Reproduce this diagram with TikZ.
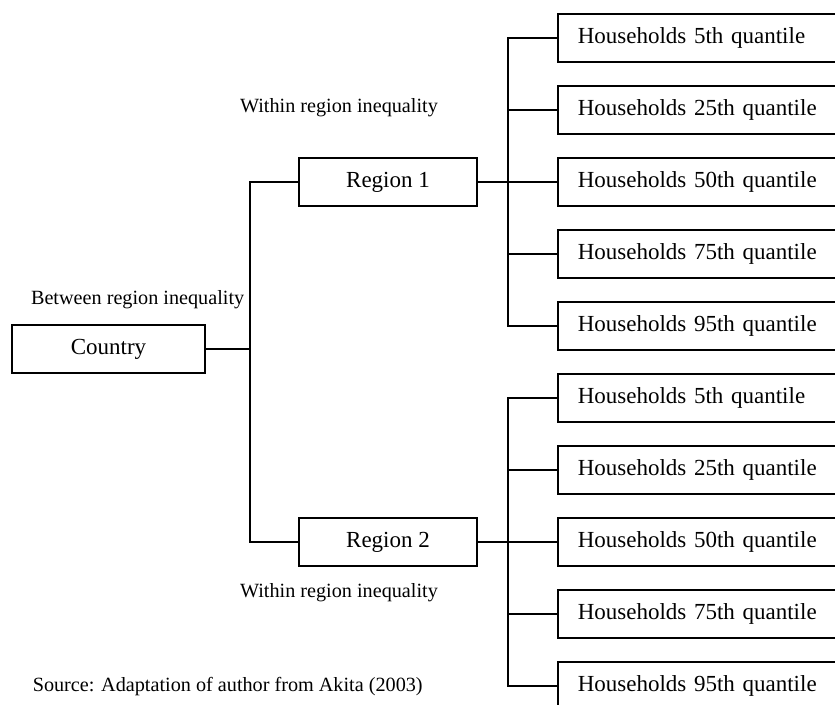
\documentclass[tikz,border=0pt]{standalone}
\usepackage{fontspec}
\setmainfont{Liberation Serif}
\usepackage{tikz}

\begin{document}
\begin{tikzpicture}[x=1pt,y=-1pt,line width=1.6pt,
  box/.style={draw,rectangle,minimum height=48pt,inner sep=0pt,font=\fontsize{23}{27}\selectfont},
  hbox/.style={box,anchor=west,text width=263pt,align=left,inner xsep=20pt},
  lbl/.style={font=\fontsize{20.2}{24}\selectfont,inner sep=0pt}]
\clip (0,0) rectangle (835,704);
\node[box,minimum width=193pt] (country) at (108.5,349) {Country};
\node[box,minimum width=178pt] (r1) at (388,182) {Region 1};
\node[box,minimum width=178pt] (r2) at (388,542) {Region 2};
\coordinate (cj) at (250,349);
\coordinate (j1) at (508,182);
\coordinate (j2) at (508,542);
\draw (country.east) -- (cj);
\draw (r1.west) -| (cj);
\draw (r2.west) -| (cj);
\draw (r1.east) -- (j1);
\draw (r2.east) -- (j2);
% households of each region
\foreach \i/\q in {1/5,2/25,3/50,4/75,5/95} {
   \node[hbox] (ha\i) at (557,38+72*\i-72) {Households \q th quantile};
   \node[hbox] (hb\i) at (557,398+72*\i-72) {Households \q th quantile};
   \draw (ha\i.west) -| (j1);
   \draw (hb\i.west) -| (j2);
}
\node[lbl,anchor=east] (between) at (245,300) {Between region inequality};
\node[lbl] (within1) at (339,108) {Within region inequality};
\node[lbl] (within2) at (339,593) {Within region inequality};
\node[lbl,anchor=west] (source) at (32,687) {Source: Adaptation of author from Akita (2003)};
\end{tikzpicture}
\end{document}
